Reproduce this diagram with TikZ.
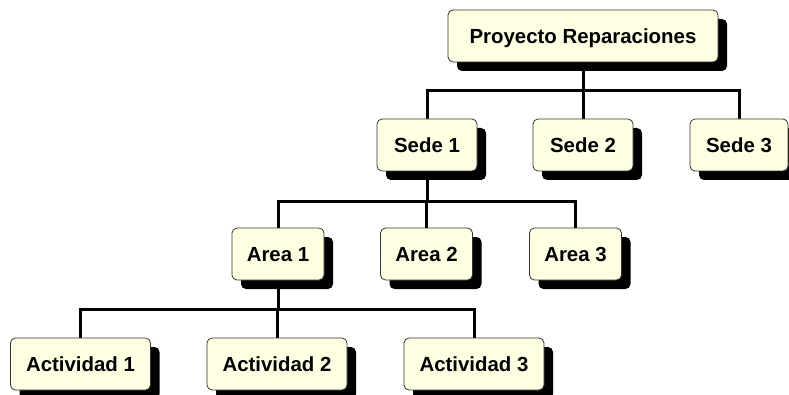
\documentclass[tikz,border=0pt]{standalone}
\usepackage{fontspec}
\setmainfont{Liberation Sans}
\usetikzlibrary{shadows,backgrounds}
\definecolor{boxfill}{HTML}{FFFFE1}
\definecolor{boxline}{HTML}{333333}
\tikzset{
  orgbox/.style={draw=boxline, line width=0.8pt, fill=boxfill, rounded corners=5pt,
    minimum height=52pt, inner sep=0pt, text height=14.6pt, text depth=0pt,
    font=\fontsize{20.4}{24}\selectfont\bfseries,
    drop shadow={shadow xshift=9pt, shadow yshift=-9pt, opacity=1, fill=black}},
  link/.style={line width=3pt, line join=miter, draw=black}
}
\begin{document}
\begin{tikzpicture}[x=1pt, y=1pt]
\useasboundingbox (0,0) rectangle (789,394);

% boxes
\node[orgbox, minimum width=270pt] (proj) at (583,358) {Proyecto Reparaciones};
\node[orgbox, minimum width=100pt] (s1) at (427,249) {Sede 1};
\node[orgbox, minimum width=100pt] (s2) at (583,249) {Sede 2};
\node[orgbox, minimum width=98pt] (s3) at (739,249) {Sede 3};
\node[orgbox, minimum width=92pt] (a1) at (278,140) {Area 1};
\node[orgbox, minimum width=92pt] (a2) at (426.5,140) {Area 2};
\node[orgbox, minimum width=92pt] (a3) at (575.5,140) {Area 3};
\node[orgbox, minimum width=140pt] (t1) at (80.5,30) {Actividad 1};
\node[orgbox, minimum width=140pt] (t2) at (277,30) {Actividad 2};
\node[orgbox, minimum width=140pt] (t3) at (474,30) {Actividad 3};

% bus levels between the rows
\coordinate (bus0) at (583,303);
\coordinate (bus1) at (427,193);
\coordinate (bus2) at (278,85);

% connectors, behind the boxes
\begin{scope}[on background layer]
\draw[link] (proj.south) -- (bus0);
\draw[link] (s1.north) |- (bus0) -| (s3.north);
\draw[link] (s2.north) -- (s2.north |- bus0);
\draw[link] (s1.south) -- (bus1);
\draw[link] (a1.north) |- (bus1) -| (a3.north);
\draw[link] (a2.north) -- (a2.north |- bus1);
\draw[link] (a1.south) -- (bus2);
\draw[link] (t1.north) |- (bus2) -| (t3.north);
\draw[link] (t2.north) -- (t2.north |- bus2);
\end{scope}
\end{tikzpicture}
\end{document}
